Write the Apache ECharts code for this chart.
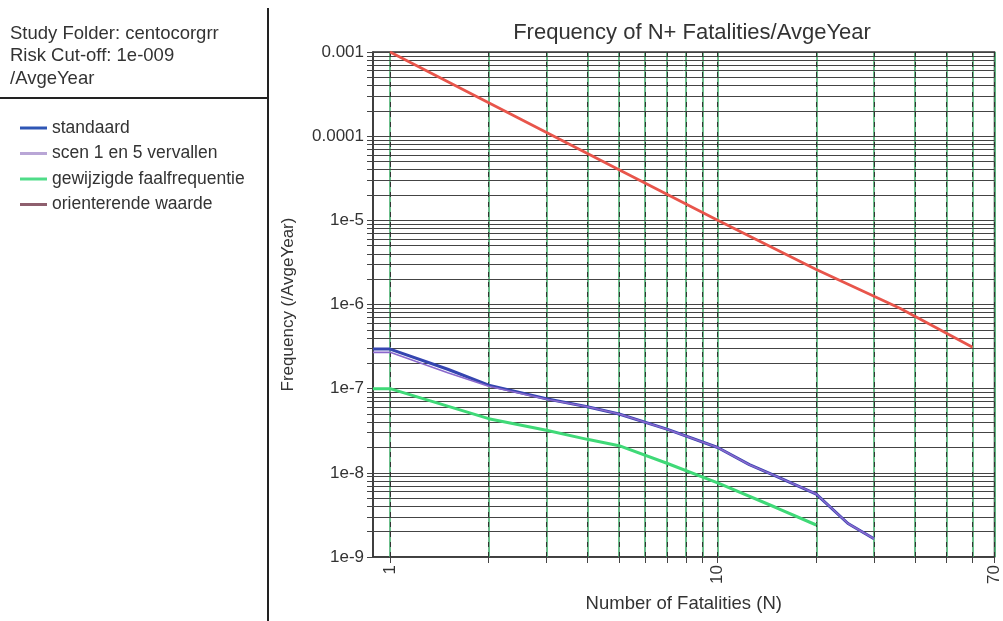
<!DOCTYPE html>
<html><head><meta charset="utf-8">
<script src="https://cdn.jsdelivr.net/npm/echarts@6/dist/echarts.min.js"></script>
<style>html,body{margin:0;padding:0;background:#fff}#c{width:1003px;height:621px}</style>
</head><body><div id="c"></div>
<script>
// ---- data ----
const seriesNames = ['standaard', 'scen 1 en 5 vervallen', 'gewijzigde faalfrequentie', 'orienterende waarde'];
const standaard = [[0.887,2.95e-7],[1,2.95e-7],[1.5,1.7e-7],[2,1.1e-7],[3,7.6e-8],[4,6.1e-8],[5,5.0e-8],[7,3.3e-8],[10,2.0e-8],[12.5,1.25e-8],[15,9.2e-9],[20,5.6e-9],[25,2.5e-9],[30,1.65e-9]];
const scen = [[0.887,2.7e-7],[1,2.7e-7],[1.5,1.55e-7],[2,1.07e-7],[3,7.5e-8],[4,6.1e-8],[5,5.0e-8],[7,3.3e-8],[10,2.0e-8],[12.5,1.25e-8],[15,9.2e-9],[20,5.6e-9],[25,2.5e-9],[30,1.65e-9]];
const gewijzigd = [[0.887,1.0e-7],[1,1.0e-7],[2,4.4e-8],[3,3.2e-8],[4,2.5e-8],[5,2.1e-8],[7,1.3e-8],[10,7.6e-9],[15,3.9e-9],[20,2.4e-9]];
const orienterend = [[1,1e-3],[2,2.5e-4],[5,4e-5],[10,1e-5],[20,2.6e-6],[36,9e-7],[60,3.1e-7]];
const xTickLabels = [1, 10, 70];
const yTickValues = [1e-9, 1e-8, 1e-7, 1e-6, 1e-5, 1e-4, 1e-3];
const yTickLabels = ['1e-9', '1e-8', '1e-7', '1e-6', '1e-5', '0.0001', '0.001'];
const xGridValues = [1,2,3,4,5,6,7,8,9,10,20,30,40,50,60,70];
const yGridMultipliers = [1,2,3,4,5,6,7,8,9];
const xMin = 0.887, xMax = 70;
const infoLines = ['Study Folder: centocorgrr', 'Risk Cut-off: 1e-009', '/AvgeYear'];
const legendColors = ['#2f56b5', '#b9a6d6', '#4fdc88', '#8e5f6e'];

const yGridValues = [];
yTickValues.slice(0, -1).forEach(d => yGridMultipliers.forEach(m => yGridValues.push(m * d)));
yGridValues.push(1e-3);

const FONT = 'Liberation Sans';
function yFmt(v) {
  let best = 0;
  const lv = Math.log10(v);
  for (let i = 1; i < yTickValues.length; i++) {
    if (Math.abs(lv - Math.log10(yTickValues[i])) < Math.abs(lv - Math.log10(yTickValues[best]))) best = i;
  }
  return yTickLabels[best];
}

const chart = echarts.init(document.getElementById('c'), null, {renderer: 'canvas'});
const option = {
  animation: false,
  backgroundColor: '#fff',
  title: {
    text: 'Frequency of N+ Fatalities/AvgeYear',
    left: 687, top: 17, textAlign: 'center',
    textStyle: {fontFamily: FONT, fontSize: 22, fontWeight: 'normal', color: '#333'}
  },
  legend: {
    data: seriesNames.map((n, i) => ({name: n, icon: 'rect', itemStyle: {color: legendColors[i]}})),
    orient: 'vertical', left: 15, top: 114,
    itemWidth: 27, itemHeight: 3, itemGap: 7.5,
    textStyle: {fontFamily: FONT, fontSize: 17.5, color: '#333'},
    selectedMode: false
  },
  grid: {left: 373, right: 7, top: 52, bottom: 64, show: true, borderColor: '#333', borderWidth: 1.5, containLabel: false},
  xAxis: {
    type: 'log', logBase: 10, min: xMin, max: xMax,
    axisLine: {show: true, lineStyle: {color: '#333', width: 1.5}},
    axisTick: {show: true, customValues: xGridValues, length: 6, lineStyle: {color: '#444'}},
    splitLine: {show: false}, minorTick: {show: false},
    axisLabel: {customValues: xTickLabels, rotate: 90, margin: 8, fontFamily: FONT, fontSize: 17, color: '#333'},
    name: 'Number of Fatalities (N)', nameLocation: 'middle', nameGap: 37,
    nameTextStyle: {fontFamily: FONT, fontSize: 18.5, color: '#333'}
  },
  yAxis: {
    type: 'log', logBase: 10, min: 1e-9, max: 1e-3,
    axisLine: {show: true, lineStyle: {color: '#333', width: 1.5}},
    axisTick: {show: true, customValues: yGridValues, length: 6, lineStyle: {color: '#444'}},
    splitLine: {show: false}, minorTick: {show: false},
    axisLabel: {customValues: yTickValues, formatter: yFmt, margin: 9, fontFamily: FONT, fontSize: 17, color: '#333'},
    name: 'Frequency (/AvgeYear)', nameLocation: 'middle', nameGap: 76, nameRotate: 90,
    nameTextStyle: {fontFamily: FONT, fontSize: 17, color: '#333'}
  },
  graphic: [
    ...infoLines.map((t, i) => ({type: 'text', left: 10, top: 24 + i * 22.5, silent: true,
      style: {text: t, fontFamily: FONT, fontSize: 18.5, fill: '#333'}})),
    {type: 'line', silent: true, shape: {x1: 0, y1: 98, x2: 268, y2: 98}, style: {stroke: '#222', lineWidth: 2}},
    {type: 'line', silent: true, shape: {x1: 268, y1: 8, x2: 268, y2: 621}, style: {stroke: '#222', lineWidth: 2}}
  ],
  series: [
    {type: 'line', name: '_vgridg', data: [], silent: true,
      markLine: {silent: true, symbol: 'none', label: {show: false}, animation: false,
        lineStyle: {color: '#3aa865', width: 1.5, type: 'solid'},
        data: xGridValues.map(v => ({xAxis: v}))}},
    {type: 'line', name: '_hgrid', data: [], silent: true,
      markLine: {silent: true, symbol: 'none', label: {show: false}, animation: false,
        lineStyle: {color: '#444', width: 1, type: 'solid'},
        data: yGridValues.map(v => [{coord: [xMin, v]}, {coord: [xMax, v]}])}},
    {type: 'line', name: '_vgridd', data: [], silent: true,
      markLine: {silent: true, symbol: 'none', label: {show: false}, animation: false,
        lineStyle: {color: '#333', width: 1, type: [5, 5]},
        data: xGridValues.map(v => ({xAxis: v}))}},
    {type: 'line', name: seriesNames[3], data: orienterend, showSymbol: false, symbol: 'none',
      color: legendColors[3], lineStyle: {color: '#e8554b', width: 2.8}, z: 5},
    {type: 'line', name: seriesNames[2], data: gewijzigd, showSymbol: false, symbol: 'none',
      color: legendColors[2], lineStyle: {color: '#3fd977', width: 3}, z: 5},
    {type: 'line', name: seriesNames[0], data: standaard, showSymbol: false, symbol: 'none',
      color: legendColors[0], lineStyle: {color: '#3545b0', width: 3}, z: 5},
    {type: 'line', name: seriesNames[1], data: scen, showSymbol: false, symbol: 'none',
      color: legendColors[1], lineStyle: {color: '#8a68cc', width: 1.6}, z: 6}
  ]
};
chart.setOption(option);
</script>
</body></html>
